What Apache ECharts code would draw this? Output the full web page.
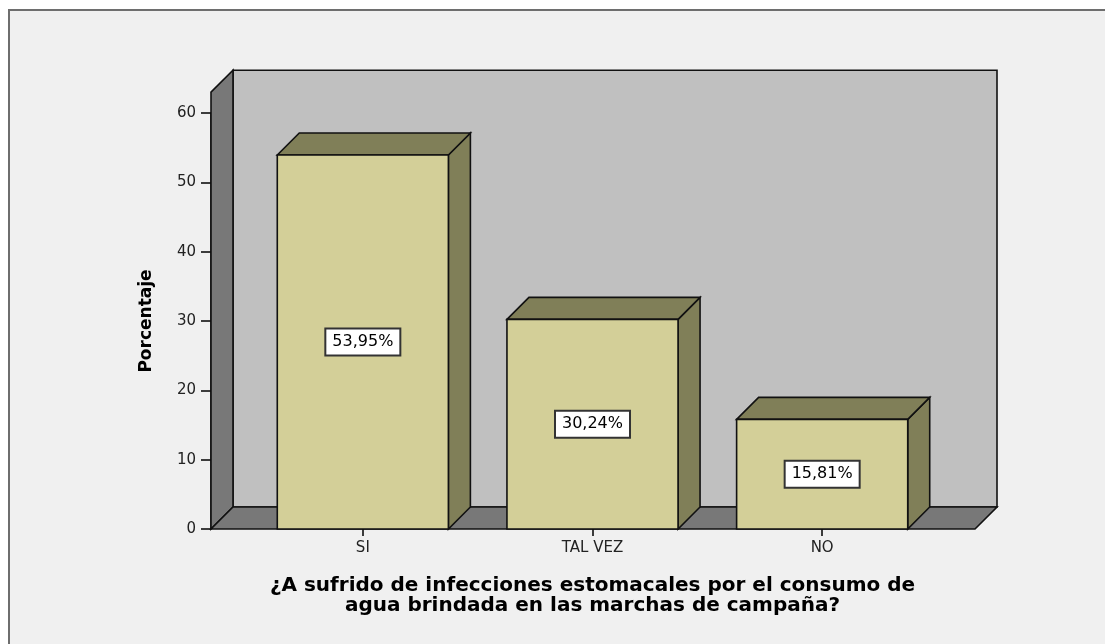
<!DOCTYPE html>
<html>
<head>
<meta charset="utf-8">
<script src="https://cdn.jsdelivr.net/npm/echarts@6/dist/echarts.min.js"></script>
<style>
html, body { margin: 0; padding: 0; background: #fff; }
#main { width: 1105px; height: 644px; }
</style>
</head>
<body>
<div id="main"></div>
<script>
// datos del grafico
var categories = ['SI', 'TAL VEZ', 'NO'];
var percentages = [53.95, 30.24, 15.81];
var valueLabels = ['53,95%', '30,24%', '15,81%'];
var yTicks = [0, 10, 20, 30, 40, 50, 60];

var DEPTH = 22;      // profundidad del efecto 3D (px)
var BAR_FRAC = 0.745; // ancho de barra respecto a la banda
var WALL_TOP = 63;   // altura de las paredes en unidades del eje

var chart = echarts.init(document.getElementById('main'));

var edge = { stroke: '#111', lineWidth: 1.6 };

// paredes y piso del grafico 3D
function renderFrame(params, api) {
    var cs = params.coordSys;
    var left = cs.x - 37;
    var right = cs.x + cs.width + 38;
    var base = api.coord([0, 0])[1];
    var top = api.coord([0, WALL_TOP])[1];
    var d = DEPTH;
    return {
        type: 'group',
        children: [
            {
                type: 'rect',
                shape: { x: left + d, y: top - d, width: right - left, height: base - top },
                style: Object.assign({ fill: '#c0c0c0' }, edge)
            },
            {
                type: 'polygon',
                shape: { points: [[left, base], [left, top], [left + d, top - d], [left + d, base - d]] },
                style: Object.assign({ fill: '#787878' }, edge)
            },
            {
                type: 'polygon',
                shape: { points: [[left, base], [left + d, base - d], [right + d, base - d], [right, base]] },
                style: Object.assign({ fill: '#787878' }, edge)
            }
        ]
    };
}

// barras 3D con etiqueta
function renderBar(params, api) {
    var idx = api.value(0);
    var val = api.value(1);
    var p = api.coord([idx, val]);
    var b = api.coord([idx, 0]);
    var w = api.size([1, 0])[0] * BAR_FRAC;
    var x0 = p[0] - w / 2, x1 = p[0] + w / 2;
    var yt = p[1], yb = b[1];
    var d = DEPTH;
    return {
        type: 'group',
        children: [
            {
                type: 'polygon',
                shape: { points: [[x1, yt], [x1 + d, yt - d], [x1 + d, yb - d], [x1, yb]] },
                style: Object.assign({ fill: '#807f58' }, edge)
            },
            {
                type: 'polygon',
                shape: { points: [[x0, yt], [x0 + d, yt - d], [x1 + d, yt - d], [x1, yt]] },
                style: Object.assign({ fill: '#807f58' }, edge)
            },
            {
                type: 'rect',
                shape: { x: x0, y: yt, width: w, height: yb - yt },
                style: Object.assign({ fill: '#d3cf98' }, edge)
            },
            {
                type: 'text',
                style: {
                    text: valueLabels[params.dataIndex],
                    x: p[0],
                    y: (yt + yb) / 2,
                    align: 'center',
                    verticalAlign: 'middle',
                    font: '16px "DejaVu Sans"',
                    fill: '#000',
                    backgroundColor: '#fff',
                    borderColor: '#333',
                    borderWidth: 2,
                    padding: [5, 6, 4, 6]
                }
            }
        ]
    };
}

var barData = categories.map(function (c, i) { return [i, percentages[i]]; });

var option = {
    backgroundColor: '#fff',
    animation: false,
    graphic: [{
        type: 'rect',
        left: 8,
        top: 9,
        z: -10,
        silent: true,
        shape: { width: 1120, height: 660 },
        style: { fill: '#f0f0f0', stroke: '#6e6e6e', lineWidth: 2 }
    }],
    grid: { left: 248, right: 168, top: 113, bottom: 115 },
    xAxis: {
        type: 'category',
        data: categories,
        axisLine: { show: false },
        axisTick: { show: true, alignWithLabel: true, length: 7, lineStyle: { color: '#000', width: 1.5 } },
        axisLabel: { fontSize: 15, fontFamily: 'DejaVu Sans', color: '#222', margin: 12 },
        splitLine: { show: false },
        name: '¿A sufrido de infecciones estomacales por el consumo de\nagua brindada en las marchas de campaña?',
        nameLocation: 'middle',
        nameGap: 47,
        nameTextStyle: {
            fontFamily: 'DejaVu Sans',
            fontWeight: 'bold',
            fontSize: 20,
            lineHeight: 20,
            color: '#000',
            align: 'center'
        }
    },
    yAxis: {
        type: 'value',
        min: yTicks[0],
        max: yTicks[yTicks.length - 1],
        interval: yTicks[1] - yTicks[0],
        offset: 37,
        axisLine: { show: true, lineStyle: { color: '#000', width: 1.5 } },
        axisTick: { show: true, length: 10, lineStyle: { color: '#000', width: 1.5 } },
        axisLabel: { fontSize: 15, fontFamily: 'DejaVu Sans', color: '#222', margin: 15 },
        splitLine: { show: false },
        name: 'Porcentaje',
        nameLocation: 'middle',
        nameRotate: 90,
        nameGap: 56,
        nameTextStyle: { fontFamily: 'DejaVu Sans', fontWeight: 'bold', fontSize: 17, color: '#000' }
    },
    series: [
        {
            type: 'custom',
            z: 1,
            clip: false,
            silent: true,
            renderItem: renderFrame,
            data: [[0, 0]]
        },
        {
            type: 'custom',
            z: 2,
            clip: false,
            renderItem: renderBar,
            data: barData
        }
    ]
};

chart.setOption(option);
</script>
</body>
</html>
